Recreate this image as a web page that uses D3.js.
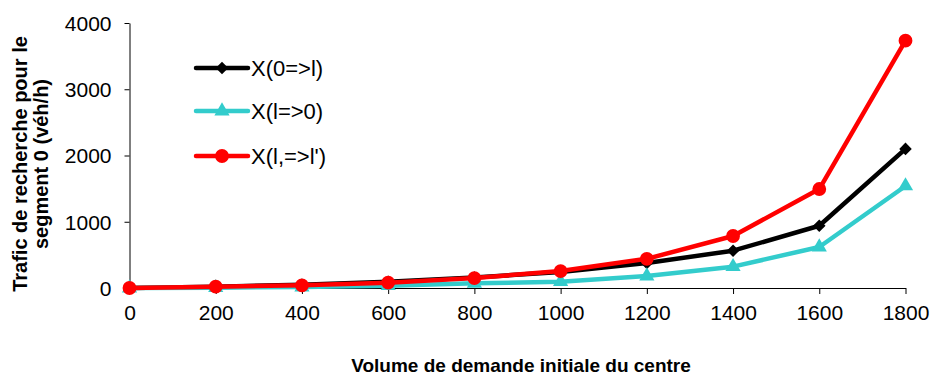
<!DOCTYPE html>
<html><head><meta charset="utf-8">
<script src="https://cdn.jsdelivr.net/npm/d3@7"></script>
<style>body{margin:0;background:#fff;} text{font-family:"Liberation Sans",Arial,sans-serif;}</style>
</head><body><svg id="c" width="932" height="376"></svg>
<script>
const xValues = [0,200,400,600,800,1000,1200,1400,1600,1800];
const seriesNames = ["X(0=>l)","X(l=>0)","X(l,=>l')"];
const black = [0,20,50,95,160,240,377,563,940,2100];
const cyan = [0,5,15,35,70,95,181,322,619,1540];
const red = [0,20,40,80,150,256,440,785,1494,3733];
const yTicks = [0,1000,2000,3000,4000];
const colors = ["#000000","#33CCCC","#FF0000"];
const symbols = [d3.symbolDiamond2, d3.symbolTriangle, d3.symbolCircle];
const data = [black, cyan, red];

const svg = d3.select("#c");
const x = d3.scaleLinear().domain([0,1800]).range([129.5,905.5]);
const y = d3.scaleLinear().domain([0,4000]).range([288,23]);
const fmt = d3.format("d");

const yAxis = svg.append("g").attr("transform","translate(129.5,0)")
  .call(d3.axisLeft(y).tickValues(yTicks).tickFormat(fmt).tickSize(5).tickSizeOuter(0).tickPadding(13));
const xAxis = svg.append("g").attr("transform","translate(0,288)")
  .call(d3.axisBottom(x).tickValues(xValues).tickFormat(fmt).tickSize(6).tickSizeOuter(0).tickPadding(11));
[yAxis,xAxis].forEach(a=>{
  a.selectAll("text").attr("font-size",21).attr("fill","#000").style("font-family","Liberation Sans, Arial, sans-serif");
  a.selectAll("line,path").attr("stroke","#000");
});
yAxis.selectAll("text").attr("dy","0.35em");

const line = d3.line().x((d,i)=>x(xValues[i])).y(d=>y(d));
const sizes = [100,100,150];
data.forEach((s,k)=>{
  svg.append("path").datum(s).attr("d",line).attr("fill","none")
    .attr("stroke",colors[k]).attr("stroke-width",4.5).attr("stroke-linejoin","round");
  svg.append("g").selectAll("path").data(s).join("path")
    .attr("transform",(d,i)=>`translate(${x(xValues[i])},${y(d)})`)
    .attr("d",d3.symbol().type(symbols[k]).size(sizes[k]))
    .attr("fill",colors[k]);
});

// legend
const legY = [68,111,156];
seriesNames.forEach((n,k)=>{
  const g = svg.append("g");
  g.append("line").attr("x1",196).attr("x2",248).attr("y1",legY[k]).attr("y2",legY[k])
    .attr("stroke",colors[k]).attr("stroke-width",4.5).attr("stroke-linecap","round");
  g.append("path").attr("transform",`translate(222,${legY[k]})`)
    .attr("d",d3.symbol().type(symbols[k]).size(sizes[k])).attr("fill",colors[k]);
  g.append("text").attr("x",251).attr("y",legY[k]).attr("dy","0.35em")
    .attr("font-size",22).text(n);
});

svg.append("text").attr("x",521).attr("y",372).attr("text-anchor","middle")
  .attr("font-size",19).attr("font-weight","bold").text("Volume de demande initiale du centre");
const yt = svg.append("text").attr("transform","translate(0,164) rotate(-90)")
  .attr("text-anchor","middle").attr("font-size",20).attr("font-weight","bold");
yt.append("tspan").attr("x",0).attr("y",27).text("Trafic de recherche pour le");
yt.append("tspan").attr("x",0).attr("y",48).text("segment 0 (véh/h)");
</script></body></html>
